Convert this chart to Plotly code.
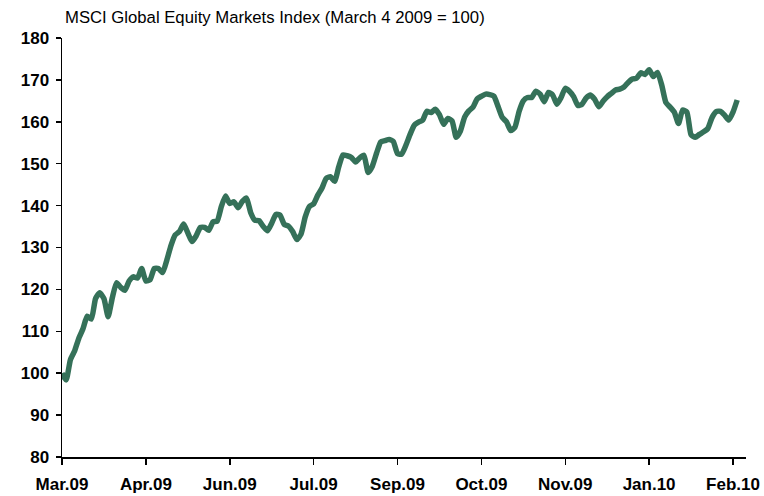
import plotly.graph_objects as go

title_text = "MSCI Global Equity Markets Index (March 4 2009 = 100)"

tick_labels = ["Mar.09", "Apr.09", "Jun.09", "Jul.09", "Sep.09",
               "Oct.09", "Nov.09", "Jan.10", "Feb.10"]
points_per_label = 20

index_values = [
    100.0, 98.4, 103.2, 105.3, 108.3, 110.6, 113.6, 112.9, 117.8, 119.2,
    117.8, 113.5, 118.0, 121.6, 120.5, 119.8, 122.0, 123.0, 122.7, 125.0,
    122.0, 122.3, 125.0, 125.0, 124.0, 127.0, 130.5, 133.0, 133.8, 135.6,
    133.5, 131.4, 132.8, 134.8, 134.8, 134.1, 136.1, 136.3, 139.8, 142.3,
    140.5, 140.9, 139.5, 141.0, 141.8, 138.3, 136.5, 136.4, 135.0, 134.0,
    135.8, 137.9, 137.7, 135.5, 135.1, 133.8, 131.9, 133.2, 137.3, 139.8,
    140.4, 142.5, 144.2, 146.5, 146.9, 145.8, 149.3, 152.1, 151.9, 151.5,
    150.4, 151.4, 152.0, 147.9, 149.4, 152.5, 155.2, 155.5, 155.8, 155.3,
    152.4, 152.3, 154.4, 157.0, 159.2, 159.9, 160.4, 162.5, 162.2, 163.0,
    161.7, 159.4, 160.8, 160.2, 156.3, 157.8, 161.1, 162.6, 163.5, 165.5,
    166.1, 166.6, 166.5, 166.1, 163.6, 161.0, 160.0, 157.9, 158.7, 162.5,
    165.0, 165.8, 165.8, 167.3, 166.6, 164.8, 167.0, 166.4, 164.2, 165.8,
    168.0, 167.3, 166.0, 163.9, 164.2, 165.7, 166.4, 165.4, 163.6, 164.9,
    166.0, 166.8, 167.6, 167.8, 168.3, 169.4, 170.2, 170.4, 171.7, 171.3,
    172.4, 170.8, 171.8, 168.8, 164.6, 163.5, 162.3, 159.6, 162.8, 162.3,
    156.9, 156.3, 157.0, 157.6, 158.4, 161.0, 162.4, 162.5, 161.6, 160.4,
    162.3, 165.2,
]

y_ticks = [80, 90, 100, 110, 120, 130, 140, 150, 160, 170, 180]

x_idx = list(range(len(index_values)))
tick_positions = [i * points_per_label for i in range(len(tick_labels))]

fig = go.Figure()
fig.add_trace(go.Scatter(
    x=x_idx, y=index_values, mode="lines",
    line=dict(color="#357159", width=5.5, shape="spline", smoothing=0.5),
    hoverinfo="skip", showlegend=False,
))

tickfont = dict(family="Liberation Sans, Arial, sans-serif", size=17,
                color="black", weight="bold")

fig.update_layout(
    width=764, height=496,
    margin=dict(l=62, r=18, t=38, b=39),
    paper_bgcolor="white", plot_bgcolor="white",
    xaxis=dict(
        range=[0, 163.1], tickvals=tick_positions, ticktext=tick_labels,
        showline=True, linecolor="black", linewidth=1.5,
        ticks="outside", ticklen=6, tickwidth=1.5, tickcolor="black",
        showgrid=False, zeroline=False, tickfont=tickfont,
        ticklabelstandoff=5, automargin=False, ticklabeloverflow="allow",
    ),
    yaxis=dict(
        range=[80, 180], tickvals=y_ticks,
        showline=True, linecolor="black", linewidth=1.5,
        ticks="outside", ticklen=5, tickwidth=1.5, tickcolor="black",
        showgrid=False, zeroline=False, tickfont=tickfont,
        ticklabelstandoff=3, automargin=False,
    ),
    annotations=[dict(
        text=title_text, xref="paper", yref="paper", x=0, y=1,
        xanchor="left", yanchor="middle", xshift=1, yshift=21,
        showarrow=False,
        font=dict(family="Liberation Sans, Arial, sans-serif", size=16.7,
                  color="black"),
    )],
)

fig.write_html(
    "out.html",
    config={"displayModeBar": False, "staticPlot": True},
    post_script="document.body.style.margin='0';document.body.style.overflow='hidden';",
)
